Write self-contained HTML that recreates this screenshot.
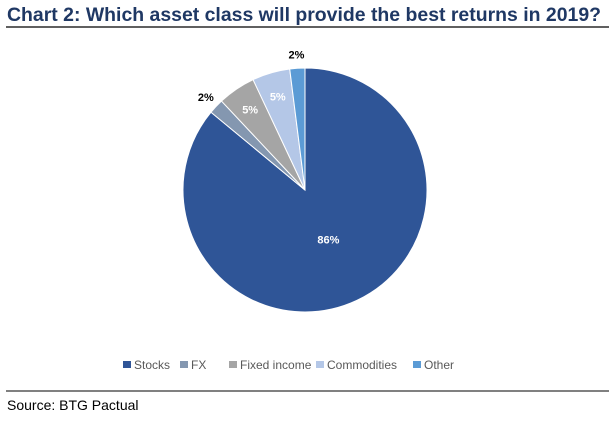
<!DOCTYPE html>
<html><head><meta charset="utf-8"><style>
body{margin:0;background:#fff;width:616px;height:419px;overflow:hidden;font-family:"Liberation Sans",sans-serif}
</style></head><body>
<svg width="616" height="419">
<text x="7" y="21" font-size="19" font-weight="bold" fill="#1F3864" textLength="594" lengthAdjust="spacingAndGlyphs">Chart 2: Which asset class will provide the best returns in 2019?</text>
<line x1="6" y1="27" x2="609" y2="27" stroke="#000" stroke-width="1.2"/>
<g id="pie"></g>
<g id="legend"></g>
<line x1="6" y1="391" x2="609" y2="391" stroke="#000" stroke-width="1"/>
<text x="7" y="410" font-size="14" fill="#000">Source: BTG Pactual</text>
</svg>
<script>
const categories=["Stocks","FX","Fixed income","Commodities","Other"];
const values=[86,2,5,5,2];
const labels=["86%","2%","5%","5%","2%"];
const colors=["#2F5597","#8497B0","#A5A5A5","#B4C7E7","#5B9BD5"];
const NS="http://www.w3.org/2000/svg";
const cx=305,cy=190,r=122;
const total=values.reduce((a,b)=>a+b,0);
const pie=document.getElementById('pie');
let a0=0;
function pt(a,rr){return [cx+rr*Math.sin(a),cy-rr*Math.cos(a)];}
values.forEach((v,i)=>{
  const a1=a0+v/total*2*Math.PI;
  const p0=pt(a0,r),p1=pt(a1,r);
  const path=document.createElementNS(NS,'path');
  path.setAttribute('d',`M${cx},${cy}L${p0[0]},${p0[1]}A${r},${r} 0 ${a1-a0>Math.PI?1:0} 1 ${p1[0]},${p1[1]}Z`);
  path.setAttribute('fill',colors[i]);
  path.setAttribute('stroke','#fff');
  path.setAttribute('stroke-width','1');
  
  
  pie.appendChild(path);
  const mid=(a0+a1)/2;
  const small=v<=2;
  const lp=pt(mid,small?r+14:(v>50?r*0.45:r*0.8));
  const t=document.createElementNS(NS,'text');
  t.setAttribute('x',lp[0]);t.setAttribute('y',lp[1]+4);
  t.setAttribute('text-anchor','middle');
  t.setAttribute('font-size','11');t.setAttribute('font-weight','bold');
  t.setAttribute('fill',small?'#000':'#fff');
  t.textContent=labels[i];
  
  
  pie.appendChild(t);
  a0=a1;
});
const leg=document.getElementById('legend');
const lx=[123,180,229,316,413];
categories.forEach((c,i)=>{
  const g=document.createElementNS(NS,'g');
  
  
  const s=document.createElementNS(NS,'rect');
  s.setAttribute('x',lx[i]);s.setAttribute('y',361);s.setAttribute('width',8);s.setAttribute('height',7);
  s.setAttribute('fill',colors[i]);
  g.appendChild(s);
  const t=document.createElementNS(NS,'text');
  t.setAttribute('x',lx[i]+11);t.setAttribute('y',369);
  t.setAttribute('font-size','12');t.setAttribute('fill','#595959');
  t.textContent=c;
  g.appendChild(t);
  leg.appendChild(g);
});
</script>
</body></html>
